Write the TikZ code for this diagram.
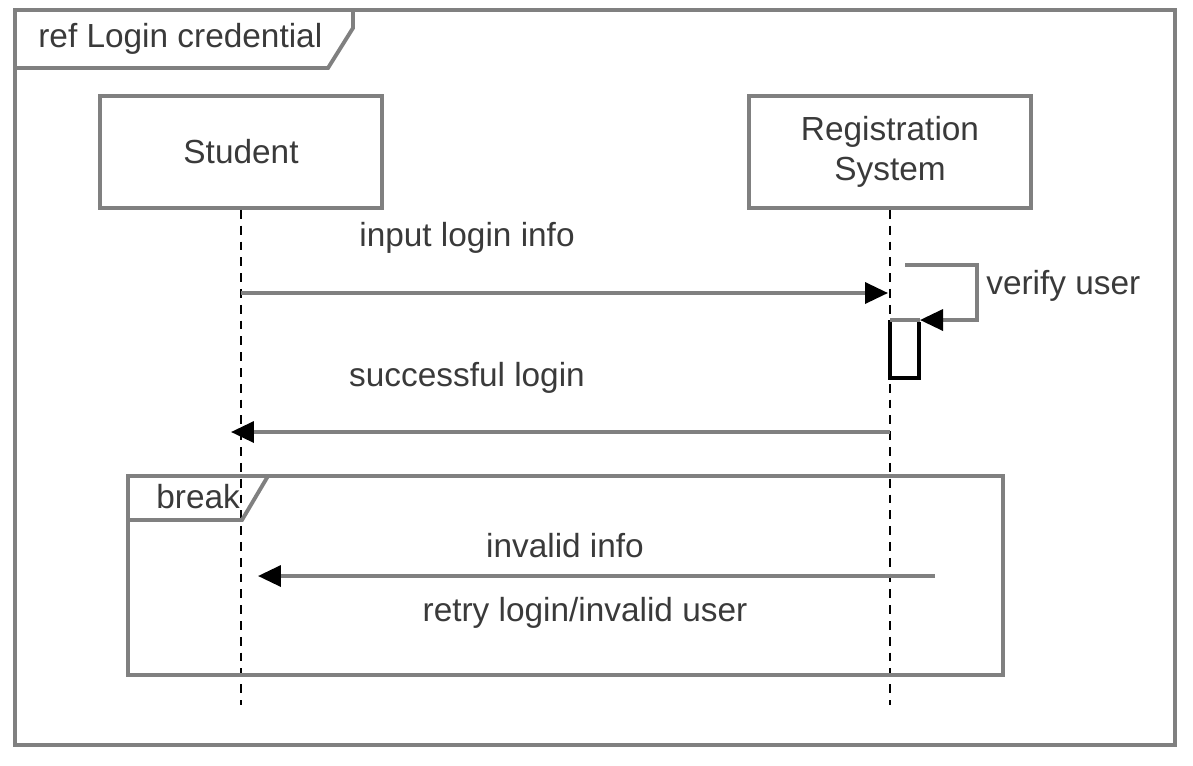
\documentclass[tikz,border=0pt]{standalone}
\usepackage{fontspec}
\setmainfont{Liberation Sans}
\usetikzlibrary{arrows.meta}
\definecolor{framegray}{HTML}{808080}
\definecolor{txtgray}{HTML}{3A3A3A}
\tikzset{
  frameline/.style={draw=framegray, line width=2.2pt},
  lifebox/.style={draw=framegray, line width=2.2pt, minimum width=5.64cm, minimum height=2.24cm, align=center, text=txtgray, font=\fontsize{19}{23}\selectfont, inner sep=0pt},
  lifeline/.style={draw=black, line width=1.5pt, dash pattern=on 5pt off 4pt},
  msg/.style={draw=framegray, line width=2pt, -{Triangle[length=0.46cm, width=0.42cm, color=black]}},
  lbl/.style={text=txtgray, font=\fontsize{19}{23}\selectfont, inner sep=0pt},
  act/.style={draw=black, line width=1.8pt, fill=white},
  grayline/.style={draw=framegray, line width=2pt}
}
\begin{document}
\begin{tikzpicture}[x=0.02cm, y=-0.02cm]
\useasboundingbox (0,0) rectangle (1193,765);
% outer frame
\draw[frameline] (15,10) rectangle (1175,745);
\draw[frameline] (15,68) -- (328,68) -- (353,28) -- (353,10);
\node[lbl, anchor=west] (reflbl) at (38,39) {ref Login credential};
% lifelines heads
\node[lifebox] (student) at (241,152) {Student};
\node[lifebox] (regsys) at (890,152) {Registration\\System};
\coordinate (stuEnd) at (241,705);
\coordinate (regEnd) at (890,705);
\draw[lifeline] (student.south) -- (stuEnd);
\draw[lifeline] (regsys.south) -- (regEnd);
% message 1
\coordinate (m1s) at (241,293);
\coordinate (m1e) at (888,293);
\draw[msg] (m1s) -- (m1e);
\node[lbl] (m1l) at (467,238) {input login info};
% self message with activation bar
\coordinate (s1) at (905,265);
\coordinate (s2) at (977,265);
\coordinate (s3) at (977,320);
\coordinate (s4) at (920,320);
\fill[white] (890,320) rectangle (919,378);
\draw[act] (890,320) -- (890,378) -- (919,378) -- (919,322);
\draw[grayline] (890,320) -- (s4);
\draw[msg] (s1) -- (s2) -- (s3) -- (s4);
\node[lbl, anchor=west] (selfl) at (986,286) {verify user};
% message 2
\coordinate (m2s) at (890,432);
\coordinate (m2e) at (231,432);
\draw[msg] (m2s) -- (m2e);
\node[lbl] (m2l) at (467,378) {successful login};
% break frame
\draw[frameline] (128,476) rectangle (1003,675);
\draw[frameline] (128,520) -- (242,520) -- (268,476);
\node[lbl, anchor=west] (brklbl) at (156,497) {break};
% message 3
\coordinate (m3s) at (935,576);
\coordinate (m3e) at (258,576);
\draw[msg] (m3s) -- (m3e);
\node[lbl] (m3l) at (565,546) {invalid info};
\node[lbl] (m4l) at (585,613) {retry login/invalid user};
\end{tikzpicture}
\end{document}
